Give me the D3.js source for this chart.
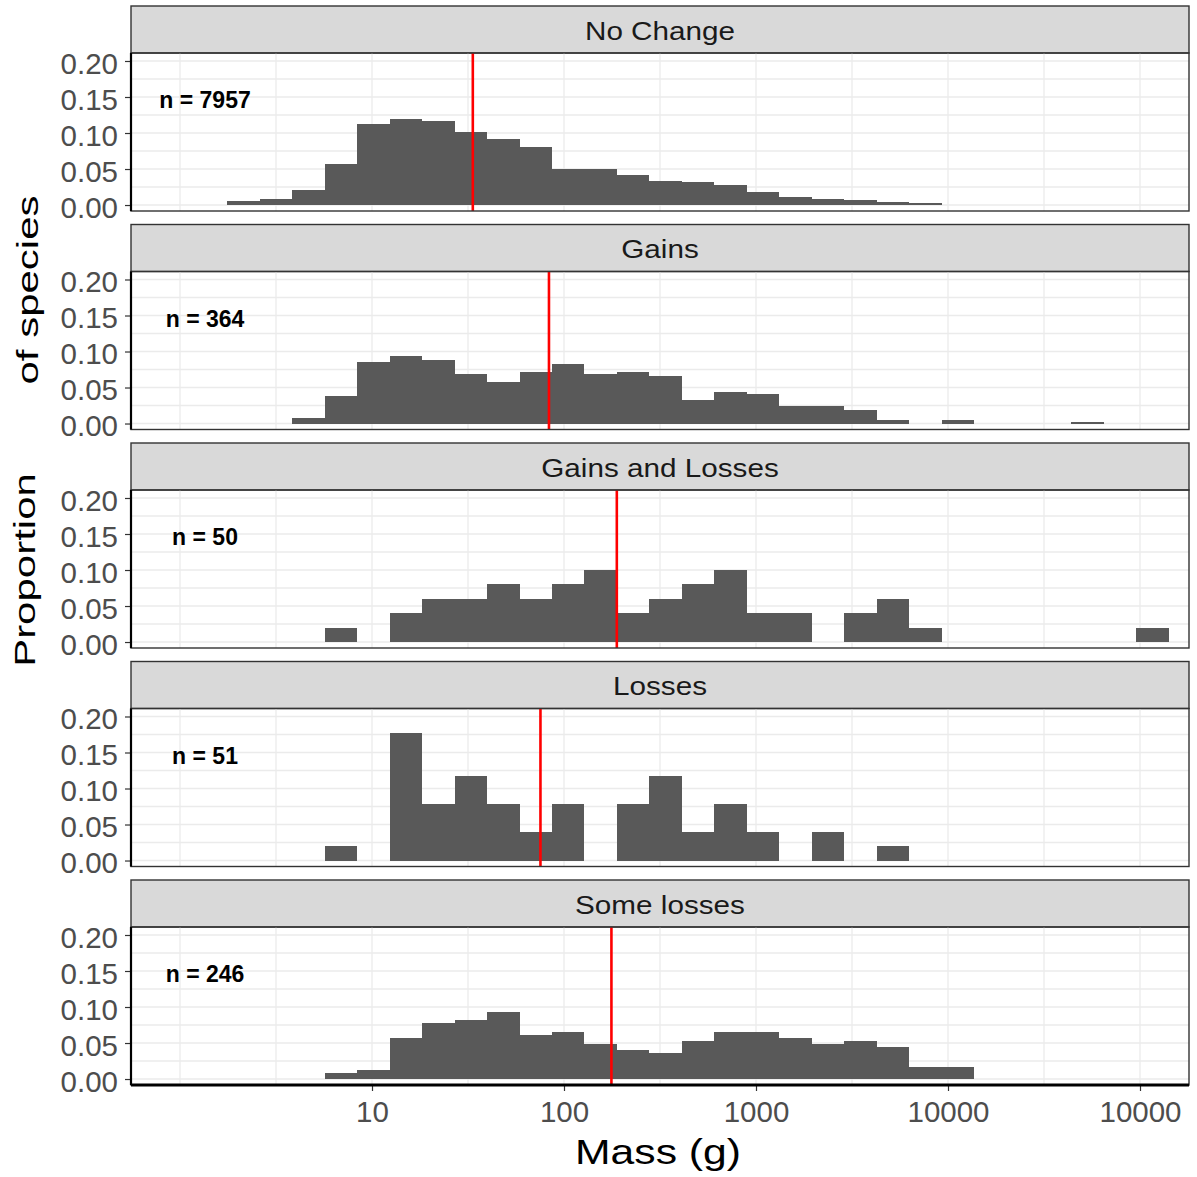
<!DOCTYPE html>
<html>
<head>
<meta charset="utf-8">
<script src="https://d3js.org/d3.v7.min.js"></script>
<style>
    body { margin: 0; background: #fff; }
    text { font-family: "Liberation Sans", Arial, sans-serif; }
</style>
</head>
<body>
<div id="chart"></div>
<script>
'use strict';

var facetNames = ['No Change', 'Gains', 'Gains and Losses', 'Losses', 'Some losses'];

// histogram breaks on log10(mass in g): 30 bins of equal width
var binStart = 0.2464, binWidth = 0.1691, binCount = 30;

// species counts per bin, one list per facet
var noChangeCounts = [39, 70, 163, 452, 896, 955, 927, 811, 724, 638, 397, 397, 335, 265, 250, 226, 140, 90, 70, 58, 36, 18, 0, 0, 0, 0, 0, 0, 0, 0];
var gainsCounts = [0, 0, 3, 14, 31, 34, 32, 25, 21, 26, 30, 25, 26, 24, 12, 16, 15, 9, 9, 7, 2, 0, 2, 0, 0, 0, 1, 0, 0, 0];
var gainsLossesCounts = [0, 0, 0, 1, 0, 2, 3, 3, 4, 3, 4, 5, 2, 3, 4, 5, 2, 2, 0, 2, 3, 1, 0, 0, 0, 0, 0, 0, 1, 0];
var lossesCounts = [0, 0, 0, 1, 0, 9, 4, 6, 4, 2, 4, 0, 4, 6, 2, 4, 2, 0, 2, 0, 1, 0, 0, 0, 0, 0, 0, 0, 0, 0];
var someLossesCounts = [0, 0, 0, 2, 3, 14, 19, 20, 23, 15, 16, 12, 10, 9, 13, 16, 16, 14, 12, 13, 11, 4, 4, 0, 0, 0, 0, 0, 0, 0];

// median body mass (g) per facet, drawn as the red line
var medianMass = [33.5, 83.5, 188.4, 75.4, 176.6];

var yTicks = [0, 0.05, 0.10, 0.15, 0.20];
var xTicks = [10, 100, 1000, 10000, 100000];
var xTickLabels = ['10', '100', '1000', '10000', '10000'];

var facetCounts = [noChangeCounts, gainsCounts, gainsLossesCounts, lossesCounts, someLossesCounts];

var svgWidth = 1197, svgHeight = 1177,
    panelLeft = 131, panelWidth = 1058, panelHeight = 158,
    stripTop = 6, stripHeight = 47, facetStep = 218.5;

var x = d3.scaleLog()
    .domain([Math.pow(10, -0.2552), Math.pow(10, 5.2552)])
    .range([0, panelWidth]);

var y = d3.scaleLinear()
    .domain([-0.0083, 0.2111])
    .range([panelHeight, 0]);

var svg = d3.select('#chart')
    .append('svg')
    .attr('width', svgWidth)
    .attr('height', svgHeight);

svg.append('rect')
    .attr('width', svgWidth)
    .attr('height', svgHeight)
    .attr('fill', '#fff');

facetNames.forEach(function (name, i) {
    drawFacet(name, facetCounts[i], medianMass[i], i, i === facetNames.length - 1);
});

drawTitles();

function binsFor(counts) {
    var n = d3.sum(counts);
    return counts.map(function (c, k) {
        return {
            lo: Math.pow(10, binStart + k * binWidth),
            hi: Math.pow(10, binStart + (k + 1) * binWidth),
            prop: c / n,
            count: c
        };
    }).filter(function (d) {
        return d.count > 0;
    });
}

function drawFacet(name, counts, median, i, isBottom) {
    var g = svg.append('g')
        .attr('transform', 'translate(' + panelLeft + ',' + (stripTop + i * facetStep) + ')');

    // strip
    g.append('rect')
        .attr('width', panelWidth)
        .attr('height', stripHeight)
        .attr('fill', '#d9d9d9')
        .attr('stroke', '#333')
        .attr('stroke-width', 1.4);

    g.append('text')
        .attr('transform', 'translate(' + (panelWidth / 2) + ',33.5) scale(1.12,1)')
        .attr('text-anchor', 'middle')
        .attr('font-size', 26.5)
        .attr('fill', '#1a1a1a')
        .text(name);

    var p = g.append('g')
        .attr('transform', 'translate(0,' + stripHeight + ')');

    // grid, major and minor share the same colour here
    var vGrid = d3.range(0, 11).map(function (j) { return Math.pow(10, j * 0.5); });
    var hGrid = d3.range(0, 9).map(function (j) { return j * 0.025; });

    p.selectAll('.vgrid')
        .data(vGrid)
        .enter().append('line')
        .attr('class', 'vgrid')
        .attr('x1', function (d) { return x(d); })
        .attr('x2', function (d) { return x(d); })
        .attr('y1', 0)
        .attr('y2', panelHeight)
        .attr('stroke', '#ebebeb')
        .attr('stroke-width', 1.3);

    p.selectAll('.hgrid')
        .data(hGrid)
        .enter().append('line')
        .attr('class', 'hgrid')
        .attr('x1', 0)
        .attr('x2', panelWidth)
        .attr('y1', function (d) { return y(d); })
        .attr('y2', function (d) { return y(d); })
        .attr('stroke', '#ebebeb')
        .attr('stroke-width', 1.3);

    p.selectAll('.bar')
        .data(binsFor(counts))
        .enter().append('rect')
        .attr('class', 'bar')
        .attr('x', function (d) { return x(d.lo); })
        .attr('width', function (d) { return x(d.hi) - x(d.lo); })
        .attr('y', function (d) { return y(d.prop); })
        .attr('height', function (d) { return y(0) - y(d.prop); })
        .attr('fill', '#595959')
        .attr('shape-rendering', 'crispEdges');

    p.append('line')
        .attr('x1', x(median))
        .attr('x2', x(median))
        .attr('y1', 0)
        .attr('y2', panelHeight)
        .attr('stroke', '#ff0000')
        .attr('stroke-width', 2.6);

    p.append('text')
        .attr('x', x(1.35))
        .attr('y', y(0.15))
        .attr('dy', '0.48em')
        .attr('text-anchor', 'middle')
        .attr('font-size', 23)
        .attr('font-weight', 'bold')
        .attr('fill', '#000')
        .text('n = ' + d3.sum(counts));

    p.append('rect')
        .attr('width', panelWidth)
        .attr('height', panelHeight)
        .attr('fill', 'none')
        .attr('stroke', '#333')
        .attr('stroke-width', 1.4);

    var yAxis = p.append('g')
        .call(d3.axisLeft(y)
            .tickValues(yTicks)
            .tickFormat(d3.format('.2f'))
            .tickSize(6)
            .tickPadding(7));
    styleAxis(yAxis);
    yAxis.selectAll('text').attr('dy', '0.42em');

    p.append('line')
        .attr('x1', 0).attr('x2', 0)
        .attr('y1', 0).attr('y2', panelHeight)
        .attr('stroke', '#000')
        .attr('stroke-width', 2.2);

    if (isBottom) {
        var xAxis = p.append('g')
            .attr('transform', 'translate(0,' + panelHeight + ')')
            .call(d3.axisBottom(x)
                .tickValues(xTicks)
                .tickFormat(function (d, j) { return xTickLabels[j]; })
                .tickSize(6)
                .tickPadding(10));
        styleAxis(xAxis);

        p.append('line')
            .attr('x1', 0).attr('x2', panelWidth)
            .attr('y1', panelHeight).attr('y2', panelHeight)
            .attr('stroke', '#000')
            .attr('stroke-width', 2.8);
    }
}

function styleAxis(axis) {
    axis.select('.domain').remove();
    axis.selectAll('line')
        .attr('stroke', '#333')
        .attr('stroke-width', 1.2);
    axis.selectAll('text')
        .attr('font-size', 29.5)
        .attr('fill', '#4d4d4d')
        .style('font-family', '"Liberation Sans", Arial, sans-serif');
}

function drawTitles() {
    svg.append('text')
        .attr('transform', 'translate(658,1164) scale(1.22,1)')
        .attr('text-anchor', 'middle')
        .attr('font-size', 35)
        .attr('fill', '#000')
        .text('Mass (g)');

    // the y title was split in two pieces in the original figure
    svg.append('text')
        .attr('transform', 'translate(35,570) rotate(-90) scale(1.4,1)')
        .attr('text-anchor', 'middle')
        .attr('font-size', 30)
        .attr('fill', '#000')
        .text('Proportion');

    svg.append('text')
        .attr('transform', 'translate(38,290) rotate(-90) scale(1.4,1)')
        .attr('text-anchor', 'middle')
        .attr('font-size', 30)
        .attr('fill', '#000')
        .text('of species');
}
</script>
</body>
</html>
